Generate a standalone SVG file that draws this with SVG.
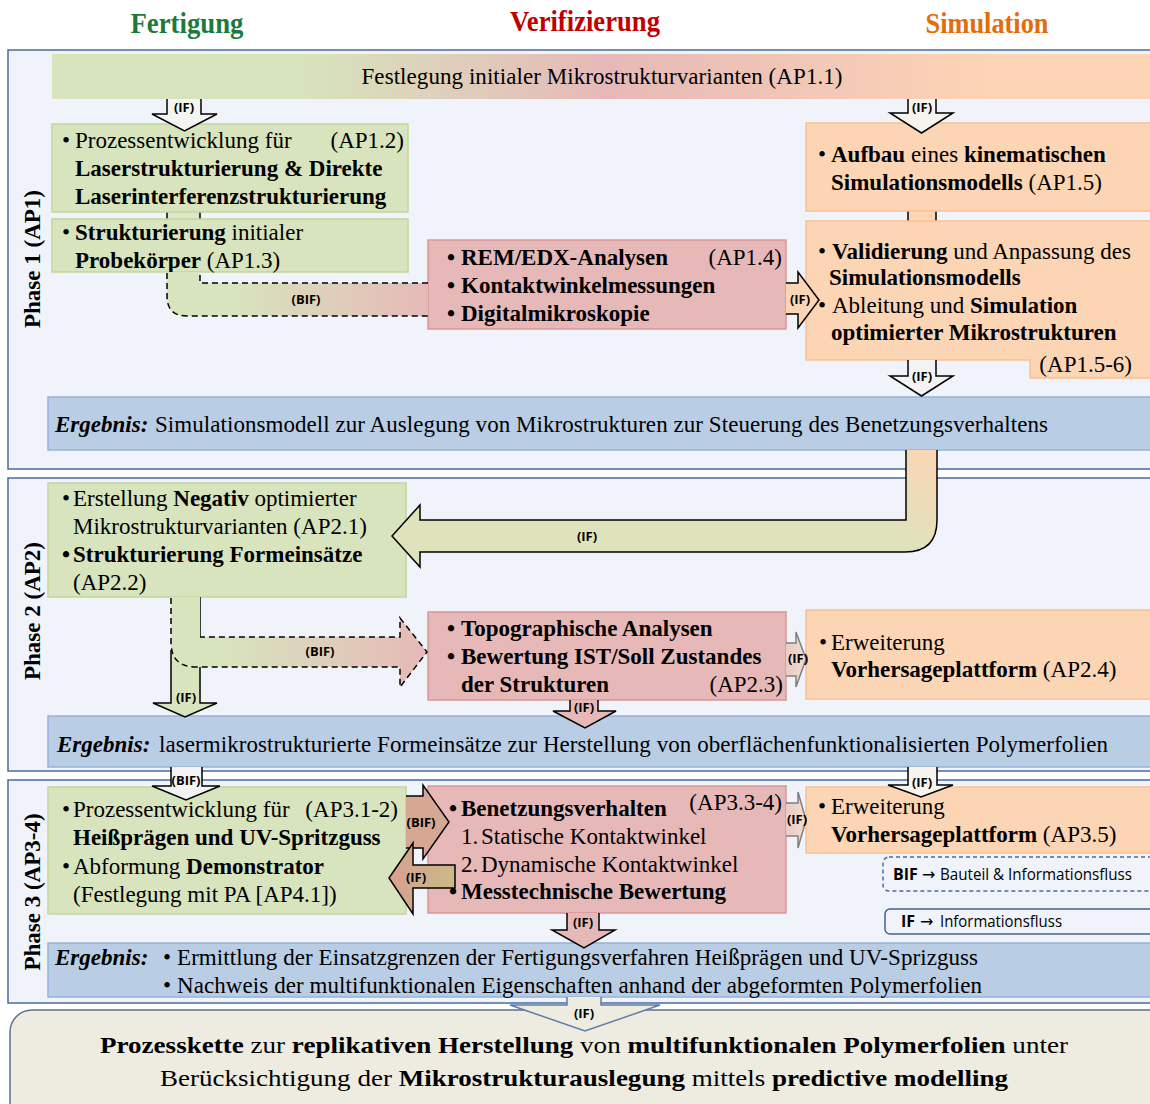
<svg xmlns="http://www.w3.org/2000/svg" width="1150" height="1104" viewBox="0 0 1150 1104">
<defs>
<style>
.ph{fill:#F0F4FA;stroke:#4A6B9B;stroke-width:1.5}
.g{fill:#D7E4BD;stroke:#C3D69B;stroke-width:1.5}
.p{fill:#E6B9B8;stroke:#D99694;stroke-width:1.5}
.o{fill:#FCD5B5;stroke:#FAC090;stroke-width:1.5}
.b{fill:#B9CDE5;stroke:#95B3D7;stroke-width:1.5}
.t{font-family:"Liberation Serif","Times New Roman",serif;font-size:23px;fill:#000}
.bd{font-weight:bold}
.bi{font-weight:bold;font-style:italic}
.hd{font-family:"Liberation Serif","Times New Roman",serif;font-size:29px;font-weight:bold}
.lb{font-family:"Open Sans","Liberation Sans",sans-serif;font-weight:bold;font-size:13px;text-anchor:middle;fill:#000}
.lg{font-family:"Open Sans","Liberation Sans",sans-serif;font-size:16px;fill:#000}
.la{font-family:"DejaVu Sans",sans-serif;font-size:16px;fill:#000}
.ar{stroke:#000;stroke-width:1.5;stroke-linejoin:miter}
.gr{stroke:#7F7F7F;stroke-width:1.5}
.ds{stroke-dasharray:6 4}
.nf{fill:none}
</style>
<linearGradient id="band" x1="0" y1="0" x2="1" y2="0">
<stop offset="0" stop-color="#D7E4BD"/><stop offset="0.22" stop-color="#D7E4BD"/><stop offset="0.5" stop-color="#E6B9B8"/><stop offset="0.85" stop-color="#FCD5B5"/><stop offset="1" stop-color="#FCD5B5"/>
</linearGradient>
<linearGradient id="bif1" gradientUnits="userSpaceOnUse" x1="167" y1="0" x2="428" y2="0">
<stop offset="0" stop-color="#D7E4BD"/><stop offset="0.25" stop-color="#D7E4BD"/><stop offset="1" stop-color="#E6B9B8"/>
</linearGradient>
<linearGradient id="bif2" gradientUnits="userSpaceOnUse" x1="171" y1="0" x2="427" y2="0">
<stop offset="0" stop-color="#D7E4BD"/><stop offset="0.2" stop-color="#D7E4BD"/><stop offset="1" stop-color="#E6B9B8"/>
</linearGradient>
<linearGradient id="big" gradientUnits="userSpaceOnUse" x1="937" y1="450" x2="880" y2="525">
<stop offset="0" stop-color="#FCD5B5"/><stop offset="1" stop-color="#DFE3BC"/>
</linearGradient>
<linearGradient id="ifl" gradientUnits="userSpaceOnUse" x1="455" y1="0" x2="389" y2="0">
<stop offset="0" stop-color="#C9BA86"/><stop offset="1" stop-color="#D8A08F"/>
</linearGradient>
<linearGradient id="po" gradientUnits="userSpaceOnUse" x1="786" y1="0" x2="806" y2="0">
<stop offset="0" stop-color="#E8CCC8"/><stop offset="1" stop-color="#F6DCCB"/>
</linearGradient>
</defs>
<rect width="1150" height="1104" fill="#FFFFFF"/>

<g id="headers">
<text class="hd" x="187" y="33" text-anchor="middle" fill="#1B7A3C" textLength="113" lengthAdjust="spacingAndGlyphs">Fertigung</text>
<text class="hd" x="585" y="31" text-anchor="middle" fill="#C00000" textLength="150" lengthAdjust="spacingAndGlyphs">Verifizierung</text>
<text class="hd" x="987" y="33" text-anchor="middle" fill="#E46C0A" textLength="123" lengthAdjust="spacingAndGlyphs">Simulation</text>
</g>

<g id="phase1">
<rect class="ph" x="8" y="50" width="1160" height="419"/>
<text class="t bd" transform="translate(40,259) rotate(-90)" text-anchor="middle" font-size="25">Phase 1 (AP1)</text>
</g>
<g id="phase2">
<rect class="ph" x="8" y="478" width="1160" height="293"/>
<text class="t bd" transform="translate(40,611) rotate(-90)" text-anchor="middle" font-size="25">Phase 2 (AP2)</text>
</g>
<g id="phase3">
<rect class="ph" x="8" y="780" width="1160" height="223"/>
<text class="t bd" transform="translate(40,892) rotate(-90)" text-anchor="middle" font-size="25">Phase 3 (AP3-4)</text>
</g>

<g id="stubs">
<rect x="167" y="210" width="33" height="10" fill="#DCE6C8"/>
<path class="ar nf" d="M167 210 V220 M200 210 V220"/>
<rect x="908" y="210" width="28" height="12" fill="#FCD5B5"/>
<path class="ar nf" d="M908 210 V222 M936 210 V222"/>
</g>

<g id="ap11">
<rect x="52" y="54" width="1110" height="45" fill="url(#band)"/>
<text class="t" x="602" y="84" text-anchor="middle" font-size="22" textLength="481" lengthAdjust="spacing">Festlegung initialer Mikrostrukturvarianten (AP1.1)</text>
</g>

<g id="ap12">
<rect class="g" x="52" y="124" width="356" height="88"/>
<text class="t" x="62" y="148">•</text>
<text class="t" x="75" y="148">Prozessentwicklung für</text>
<text class="t" x="404" y="148" text-anchor="end">(AP1.2)</text>
<text class="t bd" x="75" y="176">Laserstrukturierung &amp; Direkte</text>
<text class="t bd" x="75" y="204">Laserinterferenzstrukturierung</text>
</g>

<g id="ap13">
<rect class="g" x="52" y="219" width="356" height="53"/>
<text class="t" x="62" y="240">•</text>
<text class="t" x="75" y="240"><tspan class="bd">Strukturierung</tspan> initialer</text>
<text class="t" x="75" y="268"><tspan class="bd">Probekörper</tspan> (AP1.3)</text>
</g>

<g id="ap14">
<rect class="p" x="428" y="240" width="358" height="89"/>
<text class="t bd" x="447" y="265">•</text>
<text class="t bd" x="461" y="265">REM/EDX-Analysen</text>
<text class="t" x="782" y="265" text-anchor="end">(AP1.4)</text>
<text class="t bd" x="447" y="293">•</text>
<text class="t bd" x="461" y="293">Kontaktwinkelmessungen</text>
<text class="t bd" x="447" y="321">•</text>
<text class="t bd" x="461" y="321">Digitalmikroskopie</text>
</g>

<g id="ap15">
<rect class="o" x="806" y="123" width="360" height="88"/>
<text class="t" x="818" y="162">•</text>
<text class="t" x="831" y="162"><tspan class="bd">Aufbau</tspan> eines <tspan class="bd">kinematischen</tspan></text>
<text class="t" x="831" y="190"><tspan class="bd">Simulationsmodells</tspan> (AP1.5)</text>
</g>

<g id="ap156">
<path class="o" d="M806 221 H1166 V378 H1030 V360 H806 Z"/>
<text class="t" x="818" y="259">•</text>
<text class="t" x="832" y="259"><tspan class="bd">Validierung</tspan> und Anpassung des</text>
<text class="t bd" x="829" y="285">Simulationsmodells</text>
<text class="t" x="818" y="313">•</text>
<text class="t" x="832" y="313">Ableitung und <tspan class="bd">Simulation</tspan></text>
<text class="t bd" x="831" y="340">optimierter Mikrostrukturen</text>
<text class="t" x="1132" y="372" text-anchor="end">(AP1.5-6)</text>
</g>

<g id="erg1">
<rect class="b" x="48" y="397" width="1118" height="53"/>
<text class="t bi" x="55" y="432">Ergebnis:</text>
<text class="t" x="155" y="432" textLength="893" lengthAdjust="spacing">Simulationsmodell zur Auslegung von Mikrostrukturen zur Steuerung des Benetzungsverhaltens</text>
</g>

<g id="ap21">
<rect class="g" x="48" y="483" width="358" height="114"/>
<text class="t" x="62" y="506">•</text>
<text class="t" x="73" y="506">Erstellung <tspan class="bd">Negativ</tspan> optimierter</text>
<text class="t" x="73" y="534">Mikrostrukturvarianten (AP2.1)</text>
<text class="t bd" x="62" y="562">•</text>
<text class="t bd" x="73" y="562">Strukturierung Formeinsätze</text>
<text class="t" x="73" y="590">(AP2.2)</text>
</g>

<g id="ap23">
<rect class="p" x="428" y="612" width="358" height="88"/>
<text class="t bd" x="447" y="636">•</text>
<text class="t bd" x="461" y="636">Topographische Analysen</text>
<text class="t bd" x="447" y="664">•</text>
<text class="t bd" x="461" y="664">Bewertung IST/Soll Zustandes</text>
<text class="t bd" x="461" y="692">der Strukturen</text>
<text class="t" x="783" y="692" text-anchor="end">(AP2.3)</text>
</g>

<g id="ap24">
<rect class="o" x="806" y="610" width="360" height="89"/>
<text class="t" x="819" y="650">•</text>
<text class="t" x="831" y="650">Erweiterung</text>
<text class="t" x="831" y="677"><tspan class="bd">Vorhersageplattform</tspan> (AP2.4)</text>
</g>

<g id="erg2">
<rect class="b" x="48" y="716" width="1118" height="51"/>
<text class="t bi" x="57" y="752">Ergebnis:</text>
<text class="t" x="159" y="752" textLength="949" lengthAdjust="spacing">lasermikrostrukturierte Formeinsätze zur Herstellung von oberflächenfunktionalisierten Polymerfolien</text>
</g>

<g id="ap312">
<rect class="g" x="48" y="787" width="358" height="127"/>
<text class="t" x="62" y="817">•</text>
<text class="t" x="73" y="817">Prozessentwicklung für</text>
<text class="t" x="398" y="817" text-anchor="end">(AP3.1-2)</text>
<text class="t bd" x="73" y="845">Heißprägen und UV-Spritzguss</text>
<text class="t" x="62" y="874">•</text>
<text class="t" x="73" y="874">Abformung <tspan class="bd">Demonstrator</tspan></text>
<text class="t" x="73" y="902">(Festlegung mit PA [AP4.1])</text>
</g>

<g id="ap334">
<rect class="p" x="428" y="786" width="358" height="127"/>
<text class="t bd" x="449" y="816">•</text>
<text class="t bd" x="461" y="816">Benetzungsverhalten</text>
<text class="t" x="782" y="810" text-anchor="end">(AP3.3-4)</text>
<text class="t" x="461" y="844">1.</text>
<text class="t" x="481" y="844">Statische Kontaktwinkel</text>
<text class="t" x="461" y="872">2.</text>
<text class="t" x="481" y="872">Dynamische Kontaktwinkel</text>
<text class="t bd" x="449" y="899">•</text>
<text class="t bd" x="461" y="899">Messtechnische Bewertung</text>
</g>

<g id="ap35">
<rect class="o" x="806" y="787" width="360" height="66"/>
<text class="t" x="818" y="814">•</text>
<text class="t" x="831" y="814">Erweiterung</text>
<text class="t" x="831" y="842"><tspan class="bd">Vorhersageplattform</tspan> (AP3.5)</text>
</g>

<g id="legend-bif">
<rect x="883" y="857" width="272" height="34" rx="6" fill="#F0F4FA" stroke="#4A6B9B" stroke-width="1.5" stroke-dasharray="4 3"/>
<text class="lg" x="893" y="880" font-weight="bold">BIF</text>
<text class="la" x="922" y="880">→</text>
<text class="lg" x="940" y="880" textLength="192" lengthAdjust="spacingAndGlyphs">Bauteil &amp; Informationsfluss</text>
</g>
<g id="legend-if">
<rect x="885" y="909" width="270" height="25" rx="5" fill="#F0F4FA" stroke="#41628F" stroke-width="1.5"/>
<text class="lg" x="901" y="927" font-weight="bold">IF</text>
<text class="la" x="920" y="927">→</text>
<text class="lg" x="940" y="927" textLength="122" lengthAdjust="spacingAndGlyphs">Informationsfluss</text>
</g>

<g id="erg3">
<rect class="b" x="48" y="943" width="1118" height="54"/>
<text class="t bi" x="55" y="965">Ergebnis:</text>
<text class="t" x="163" y="965">•</text>
<text class="t" x="177" y="965" textLength="801" lengthAdjust="spacing">Ermittlung der Einsatzgrenzen der Fertigungsverfahren Heißprägen und UV-Sprizguss</text>
<text class="t" x="163" y="993">•</text>
<text class="t" x="177" y="993" textLength="805" lengthAdjust="spacing">Nachweis der multifunktionalen Eigenschaften anhand der abgeformten Polymerfolien</text>
</g>

<g id="result">
<rect x="10" y="1010" width="1160" height="115" rx="22" fill="#EEECE1" stroke="#5B7293" stroke-width="1.5"/>
<text class="t" x="584" y="1053" text-anchor="middle" font-size="25" textLength="968" lengthAdjust="spacingAndGlyphs"><tspan class="bd">Prozesskette</tspan> zur <tspan class="bd">replikativen Herstellung</tspan> von <tspan class="bd">multifunktionalen Polymerfolien</tspan> unter</text>
<text class="t" x="584" y="1086" text-anchor="middle" font-size="25" textLength="848" lengthAdjust="spacingAndGlyphs">Berücksichtigung der <tspan class="bd">Mikrostrukturauslegung</tspan> mittels <tspan class="bd">predictive modelling</tspan></text>
</g>

<g id="connectors">
<path class="ar" fill="#F3F5F0" d="M167 99 V114 H152 L184.5 131 L217 114 H201 V99"/>
<text class="lb" x="184" y="112">(IF)</text>
<path class="ar" fill="#F7F3EE" d="M908 99 V113 H890 L921.5 133 L953 113 H936 V99"/>
<text class="lb" x="922" y="112">(IF)</text>
<path fill="url(#bif1)" d="M167 272 V296 Q167 316 187 316 H428 V283 H200 V272 Z"/>
<path class="ar ds nf" d="M167 273 V296 Q167 316 187 316 H428 M428 283 H200 V273"/>
<text class="lb" x="306" y="304">(BIF)</text>
<path class="ar" fill="#FCD5B5" d="M786 283 H798 V272 L819 300 L798 328 V314 H786"/>
<text class="lb" x="800" y="304">(IF)</text>
<path class="ar" fill="#F3F3F3" d="M908 360 V376 H890 L921.5 396 L953 376 H936 V360"/>
<text class="lb" x="922" y="381">(IF)</text>
<path class="ar" fill="url(#big)" d="M906 450 V520 H420 V505 L392 536 L420 567 V552 H905 Q937 552 937 520 V450"/>
<text class="lb" x="587" y="541">(IF)</text>
<path fill="#D7E4BD" d="M171 597 V703 H153 L185 717 L217 703 H200 V597 Z"/>
<path class="ar nf" d="M171 650 V703 H153 L185 717 L217 703 H200 V667 M200 637 V597"/>
<path fill="url(#bif2)" d="M171 597 V642 Q171 667 196 667 H400 V687 L427 652 L400 618 V637 H200 V597 Z"/>
<path class="ar ds nf" d="M171 598 V642 Q171 667 196 667 H400 V687 L427 652 L400 618 V637 H200"/>
<text class="lb" x="320" y="656">(BIF)</text>
<text class="lb" x="186" y="702">(IF)</text>
<path class="gr" fill="url(#po)" d="M786 643 H796 V632 L806 659 L796 687 V676 H786"/>
<text class="lb" x="798" y="663">(IF)</text>
<path class="ar" fill="#E6B9B8" d="M570 700 V711 H553 L585 728 L616 711 H598 V700"/>
<text class="lb" x="584" y="712">(IF)</text>
<path class="ar" fill="#F3F3F3" d="M171 767 V786 H152 L186 800 L220 786 H202 V767"/>
<text class="lb" x="186" y="785">(BIF)</text>
<path class="ar" fill="#F7F3EE" d="M908 767 V785 H888 L921 797 L953 785 H937 V767"/>
<text class="lb" x="922" y="787">(IF)</text>
<path class="ar" fill="#D6A792" d="M406 796 H423 V785 L449 822 L423 859 V848 H406"/>
<text class="lb" x="421" y="827">(BIF)</text>
<path class="ar" fill="url(#ifl)" d="M455 865 H413 V843 L389 878 L413 914 V888 H455 Z"/>
<text class="lb" x="416" y="882">(IF)</text>
<path class="gr" fill="url(#po)" d="M786 803 H798 V792 L806 820 L798 848 V836 H786"/>
<text class="lb" x="797" y="824">(IF)</text>
<path class="ar" fill="#E6B9B8" d="M567 913 V930 H552 L584 948 L615 930 H599 V913"/>
<text class="lb" x="583" y="927">(IF)</text>
<path fill="#EEECE1" stroke="#5F7DA8" stroke-width="1.5" d="M567 997 V1005 H510 L585 1031 L660 1005 H601 V997"/>
<text class="lb" x="584" y="1018">(IF)</text>
</g>
</svg>
